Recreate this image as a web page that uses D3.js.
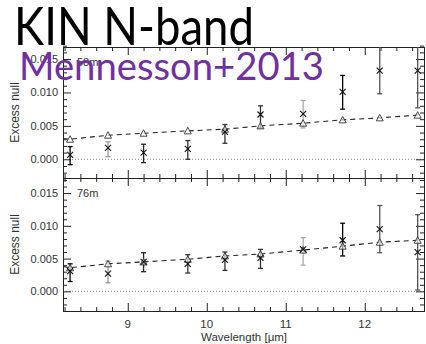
<!DOCTYPE html>
<html><head><meta charset="utf-8">
<script src="https://cdn.jsdelivr.net/npm/d3@7"></script>
<style>html,body{margin:0;padding:0;background:#fff;}svg{display:block;}</style>
</head><body>
<svg id="c" width="426" height="344"></svg>
<script>
// ---- data ----
const wavelengths = [8.27, 8.75, 9.20, 9.76, 10.23, 10.68, 11.22, 11.72, 12.19, 12.67];
// 58 m baseline (top panel)
const top58Null   = [0.00065, 0.0017, 0.0010, 0.00155, 0.0041, 0.0067, 0.0068, 0.0101, 0.01325, 0.01325];
const top58Hi     = [0.0019, 0.0026, 0.00225, 0.0028, 0.0052, 0.0080, 0.0088, 0.01255, 0.0175, 0.0175];
const top58Lo     = [-0.0008, 0.0004, -0.0005, 0.0000, 0.0024, 0.0047, 0.0047, 0.0075, 0.0098, 0.0077];
const top58Model  = [0.0030, 0.0036, 0.0039, 0.00425, 0.0045, 0.0050, 0.0054, 0.0059, 0.0062, 0.0066];
const top58TrendStart = [8.18, 0.0031];
// 76 m baseline (bottom panel)
const bot76Null   = [0.0031, 0.0027, 0.0045, 0.0042, 0.0048, 0.0051, 0.0064, 0.0078, 0.0095, 0.0060];
const bot76Hi     = [0.0042, 0.0046, 0.0059, 0.0056, 0.0060, 0.0064, 0.0082, 0.0104, 0.0131, 0.0117];
const bot76Lo     = [0.0015, 0.0013, 0.0030, 0.0028, 0.0032, 0.0035, 0.0040, 0.0054, 0.0059, 0.0002];
const bot76Model  = [0.0036, 0.0042, 0.0045, 0.0049, 0.0054, 0.0057, 0.0063, 0.0069, 0.0075, 0.0078];
const bot76TrendStart = [8.18, 0.0038];
const xTicks = [9, 10, 11, 12];
const yTicks = [0.000, 0.005, 0.010, 0.015];
const panelLabels = ["58m", "76m"];
const errShade = ["#000", "#999", "#222", "#333", "#333", "#333", "#aaa", "#000", "#555", "#555"];

// ---- layout ----
const svg = d3.select("#c");
const L = 63, R = 424;
const x = d3.scaleLinear().domain([8.18, 12.75]).range([L, R]);
const panels = [
  {name: panelLabels[0], y: d3.scaleLinear().domain([-0.0028, 0.0168]).range([178, 47]),
   val: top58Null, hi: top58Hi, lo: top58Lo, model: top58Model, start: top58TrendStart},
  {name: panelLabels[1], y: d3.scaleLinear().domain([-0.003, 0.0173]).range([311, 178]),
   val: bot76Null, hi: bot76Hi, lo: bot76Lo, model: bot76Model, start: bot76TrendStart}
];
const axisCol = "#222", labCol = "#333";
const tickFont = "Liberation Sans, Arial, sans-serif";

panels.forEach((p, pi) => {
  const [yb, yt] = p.y.range();
  const g = svg.append("g");
  const clipId = "clip" + pi;
  svg.append("clipPath").attr("id", clipId).append("rect")
    .attr("x", L).attr("y", yt).attr("width", R - L).attr("height", yb - yt);

  // zero dotted line
  g.append("line").attr("x1", L).attr("x2", R).attr("y1", p.y(0)).attr("y2", p.y(0))
    .attr("stroke", "#888").attr("stroke-width", 1).attr("stroke-dasharray", "1,2");

  // axes frame with inward ticks
  const minorX = d3.range(8.2, 12.75, 0.2).filter(v => Math.abs(v - Math.round(v)) > 0.01);
  const minorY = d3.range(-0.002, 0.0175, 0.001).filter(v => Math.abs(v / 0.005 - Math.round(v / 0.005)) > 0.01);
  const mk = (axis, tr, vals, size) => {
    const a = g.append("g").attr("transform", tr)
      .call(axis.tickValues(vals).tickSize(size).tickFormat(""));
    a.select(".domain").attr("stroke", axisCol);
    a.selectAll(".tick line").attr("stroke", axisCol);
    return a;
  };
  mk(d3.axisTop(x), `translate(0,${yb})`, xTicks, 8);
  mk(d3.axisTop(x), `translate(0,${yb})`, minorX, 4);
  mk(d3.axisBottom(x), `translate(0,${yt})`, xTicks, 8);
  mk(d3.axisBottom(x), `translate(0,${yt})`, minorX, 4);
  mk(d3.axisRight(p.y), `translate(${L},0)`, yTicks, 8);
  mk(d3.axisRight(p.y), `translate(${L},0)`, minorY, 4);
  mk(d3.axisLeft(p.y), `translate(${R},0)`, yTicks, 8);
  mk(d3.axisLeft(p.y), `translate(${R},0)`, minorY, 4);

  // y tick labels
  g.selectAll("text.yl").data(yTicks).join("text")
    .attr("x", L - 5).attr("y", d => p.y(d) + 4)
    .attr("text-anchor", "end").attr("font-family", tickFont).attr("font-size", 11)
    .attr("fill", labCol).text(d => d3.format(".3f")(d));

  // y axis title
  g.append("text").attr("transform", `translate(19,${(yb + yt) / 2}) rotate(-90)`)
    .attr("text-anchor", "middle").attr("font-family", tickFont).attr("font-size", 12)
    .attr("fill", labCol).text("Excess null");

  // panel label
  g.append("text").attr("x", 77).attr("y", yt + 19).attr("font-family", tickFont)
    .attr("font-size", 11).attr("fill", labCol).text(p.name);

  const dg = g.append("g").attr("clip-path", `url(#${clipId})`);
  const pts = [p.start].concat(wavelengths.map((w, i) => [w, p.model[i]]));
  dg.append("path").datum(pts)
    .attr("d", d3.line().x(d => x(d[0])).y(d => p.y(d[1])))
    .attr("fill", "none").attr("stroke", "#222").attr("stroke-width", 1.1).attr("stroke-dasharray", "5,4");

  wavelengths.forEach((w, i) => {
    const cx = x(w), c = errShade[i];
    const e = dg.append("g").attr("stroke", c).attr("stroke-width", 1.3);
    e.append("line").attr("x1", cx).attr("x2", cx).attr("y1", p.y(p.hi[i])).attr("y2", p.y(p.lo[i]));
    [p.hi[i], p.lo[i]].forEach(v => e.append("line").attr("x1", cx - 2.5).attr("x2", cx + 2.5)
      .attr("y1", p.y(v)).attr("y2", p.y(v)));
  });
  dg.selectAll("path.tri").data(wavelengths).join("path")
    .attr("d", (w, i) => {
      const cx = x(w), cy = p.y(p.model[i]);
      return `M${cx - 3.5},${cy + 3}L${cx + 3.5},${cy + 3}L${cx},${cy - 3.5}Z`;
    })
    .attr("fill", "#fff").attr("fill-opacity", 0.6).attr("stroke", "#333").attr("stroke-width", 0.9);
  dg.selectAll("path.cr").data(wavelengths).join("path")
    .attr("d", (w, i) => {
      const cx = x(w), cy = p.y(p.val[i]), s = 3;
      return `M${cx - s},${cy - s}L${cx + s},${cy + s}M${cx - s},${cy + s}L${cx + s},${cy - s}`;
    })
    .attr("stroke", "#111").attr("stroke-width", 1.1);
});

// x tick labels
svg.selectAll("text.xl").data(xTicks).join("text")
  .attr("x", d => x(d)).attr("y", 328).attr("text-anchor", "middle")
  .attr("font-family", tickFont).attr("font-size", 11.5).attr("fill", labCol).text(d => d);
svg.append("text").attr("x", 244).attr("y", 341).attr("text-anchor", "middle")
  .attr("font-family", tickFont).attr("font-size", 11.5).attr("fill", labCol).text("Wavelength  [\u03bcm]");

// overlay titles
svg.append("text").attr("x", 14).attr("y", 45).attr("font-family", "Lato, 'Open Sans', sans-serif")
  .attr("font-size", 52).attr("fill", "#000")
  .attr("textLength", 240).attr("lengthAdjust", "spacingAndGlyphs").text("KIN N-band");
svg.append("text").attr("x", 19).attr("y", 80).attr("font-family", "Lato, 'Open Sans', sans-serif")
  .attr("font-size", 38).attr("fill", "#7030A0")
  .attr("textLength", 305).attr("lengthAdjust", "spacingAndGlyphs").text("Mennesson+2013");
</script>
</body></html>
